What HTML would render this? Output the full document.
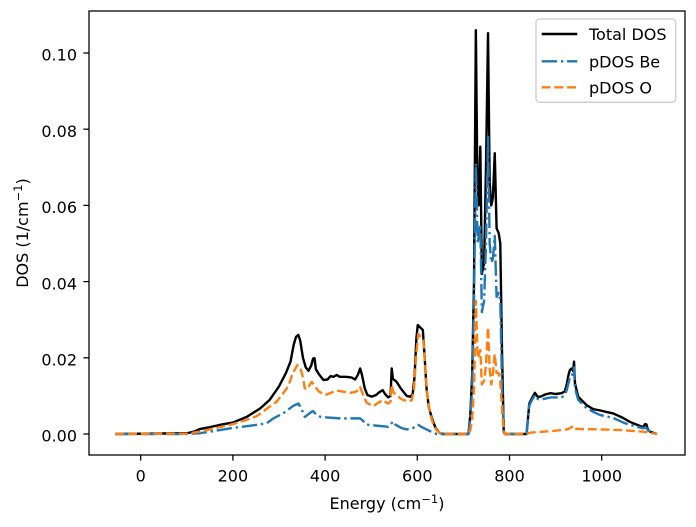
<!DOCTYPE html>
<html><head><meta charset="utf-8"><style>
html,body{margin:0;padding:0;background:#fff;}
svg{display:block;}
text{font-family:"DejaVu Sans","Liberation Sans",sans-serif;fill:#000;}
</style></head><body>
<svg id="s" width="696" height="527" viewBox="0 0 696 527" xmlns="http://www.w3.org/2000/svg">
<rect x="0" y="0" width="696" height="527" fill="#fff"/>
<g id="series"></g>
<!-- axes frame -->
<rect x="89" y="11" width="596" height="444" fill="none" stroke="#000" stroke-width="1.28"/>
<!-- y ticks -->
<g stroke="#000" stroke-width="1.28">
<line x1="83.4" y1="434" x2="89" y2="434"/>
<line x1="83.4" y1="357.8" x2="89" y2="357.8"/>
<line x1="83.4" y1="281.6" x2="89" y2="281.6"/>
<line x1="83.4" y1="205.4" x2="89" y2="205.4"/>
<line x1="83.4" y1="129.2" x2="89" y2="129.2"/>
<line x1="83.4" y1="53" x2="89" y2="53"/>
<line x1="140.7" y1="455" x2="140.7" y2="460.6"/>
<line x1="232.9" y1="455" x2="232.9" y2="460.6"/>
<line x1="325.1" y1="455" x2="325.1" y2="460.6"/>
<line x1="417.3" y1="455" x2="417.3" y2="460.6"/>
<line x1="509.5" y1="455" x2="509.5" y2="460.6"/>
<line x1="601.7" y1="455" x2="601.7" y2="460.6"/>
</g>
<g font-size="16" text-anchor="end">
<text x="77" y="441.7">0.00</text>
<text x="77" y="365.5">0.02</text>
<text x="77" y="289.3">0.04</text>
<text x="77" y="213.1">0.06</text>
<text x="77" y="136.9">0.08</text>
<text x="77" y="60.7">0.10</text>
</g>
<g font-size="16" text-anchor="middle">
<text x="140.7" y="481.5">0</text>
<text x="232.9" y="481.5">200</text>
<text x="325.1" y="481.5">400</text>
<text x="417.3" y="481.5">600</text>
<text x="509.5" y="481.5">800</text>
<text x="601.7" y="481.5">1000</text>
</g>
<text x="387" y="509" font-size="16" text-anchor="middle">Energy (cm<tspan font-size="11.5" dy="-6">−1</tspan><tspan dy="6">)</tspan></text>
<text transform="translate(28,233) rotate(-90)" font-size="16" text-anchor="middle">DOS (1/cm<tspan font-size="11.5" dy="-6">−1</tspan><tspan dy="6">)</tspan></text>
<!-- legend -->
<rect x="536" y="19" width="139.7" height="83.3" rx="3.5" ry="3.5" fill="#fff" fill-opacity="0.8" stroke="#cccccc" stroke-width="1.28"/>
<line x1="541.7" y1="34" x2="577.3" y2="34" stroke="#000" stroke-width="2.4"/>
<line x1="541.7" y1="61.3" x2="577.3" y2="61.3" stroke="#1f77b4" stroke-width="2.4" stroke-dasharray="15.4,3.8,2.4,3.8"/>
<line x1="541.7" y1="87.3" x2="577.3" y2="87.3" stroke="#ff7f0e" stroke-width="2.4" stroke-dasharray="8.9,3.8"/>
<g font-size="16">
<text x="589" y="40">Total DOS</text>
<text x="589" y="67.3">pDOS Be</text>
<text x="589" y="93.3">pDOS O</text>
</g>
</svg>
<script>
var T=[[-55,0],[100,0.0002],[115,0.0006],[128,0.0013],[150,0.0018],[172,0.0024],[200,0.003],[230,0.0045],[259,0.0067],[280,0.009],[300,0.0125],[315,0.016],[325,0.019],[332,0.0235],[337,0.0255],[342,0.026],[346,0.0245],[352,0.02],[358,0.0175],[364,0.0166],[370,0.018],[374,0.0198],[377,0.0199],[380,0.017],[386,0.0158],[396,0.0142],[405,0.0143],[412,0.0152],[418,0.015],[425,0.0155],[432,0.015],[445,0.015],[458,0.0148],[465,0.0143],[471,0.0155],[476,0.0172],[480,0.0155],[486,0.012],[492,0.0102],[501,0.0098],[510,0.0102],[518,0.011],[525,0.0115],[530,0.0105],[537,0.0096],[542,0.01],[544.5,0.0172],[547,0.0145],[555,0.0137],[565,0.0118],[577,0.0100],[585,0.0098],[590,0.0105],[594,0.015],[598,0.025],[601,0.0286],[606,0.028],[612,0.0273],[616,0.02],[620,0.012],[625,0.007],[632,0.004],[640,0.0015],[648,0.0003],[655,0],[711,0],[715,0.005],[719,0.0155],[723,0.04],[727,0.106],[730,0.07],[733,0.06],[736.7,0.0754],[740,0.042],[745,0.045],[749,0.07],[753.4,0.1052],[757,0.066],[760.5,0.06],[764,0.062],[768,0.0737],[772,0.054],[776.6,0.0527],[780,0.05],[784,0.02],[787.5,0.0006],[790,0],[837,0],[843,0.008],[849,0.0095],[855,0.0108],[861,0.0098],[867,0.0098],[878,0.0104],[889,0.0107],[900,0.0105],[913,0.0107],[920,0.0112],[924,0.0129],[928,0.0155],[931,0.0168],[935,0.0172],[938,0.0165],[940,0.019],[942,0.0133],[949,0.0098],[967,0.0076],[982,0.0065],[996,0.0062],[1010,0.0058],[1025,0.0054],[1045,0.0043],[1061,0.0032],[1075,0.0025],[1090,0.0018],[1094,0.0026],[1097,0.0025],[1100,0.0012],[1105,0.0006],[1115,0.0002],[1120,0]];
var B=[[-55,0],[100,0],[128,0.0002],[160,0.0008],[200,0.0016],[240,0.0022],[273,0.0028],[288,0.0041],[310,0.0055],[331,0.0074],[342,0.008],[348,0.0068],[356,0.0045],[364,0.0052],[370,0.0058],[374,0.006],[380,0.0052],[390,0.0045],[396,0.0044],[432,0.0041],[476,0.0041],[482,0.0035],[488,0.0026],[494,0.0024],[519,0.0021],[537,0.0019],[543,0.0025],[546.5,0.0033],[552,0.0025],[565,0.0016],[577,0.0012],[590,0.0015],[598,0.0022],[602,0.0024],[610,0.0018],[620,0.0012],[632,0.0005],[642,0],[711,0],[715,0.004],[719,0.012],[723,0.035],[727,0.071],[731,0.05],[736.7,0.055],[740,0.032],[745,0.035],[749,0.05],[753.4,0.078],[757,0.05],[760.5,0.045],[764,0.046],[768,0.052],[772,0.036],[776.6,0.037],[780,0.035],[784,0.012],[787.5,0.001],[790,0],[837,0],[843,0.0075],[849,0.009],[855,0.0102],[861,0.0092],[867,0.009],[889,0.0096],[913,0.0096],[920,0.0102],[924,0.0115],[931,0.0148],[935,0.015],[940,0.0175],[942,0.012],[949,0.009],[967,0.0068],[982,0.0058],[996,0.005],[1025,0.0042],[1047,0.003],[1061,0.0024],[1090,0.0015],[1095,0.0018],[1100,0.001],[1110,0.0003],[1120,0]];
var O=[[-55,0],[100,0.0001],[128,0.0006],[160,0.0015],[200,0.0026],[230,0.0037],[252,0.0047],[280,0.0072],[295,0.0085],[309,0.0107],[320,0.0125],[330,0.016],[340,0.0181],[346,0.0175],[352,0.0148],[356,0.012],[362,0.0118],[368,0.0132],[371,0.0137],[378,0.0125],[386,0.0112],[400,0.0102],[412,0.0108],[425,0.0114],[440,0.0111],[454,0.0108],[465,0.011],[472,0.0115],[476,0.0123],[482,0.0105],[490,0.0082],[505,0.0073],[515,0.0082],[526,0.0089],[532,0.0083],[537,0.008],[542,0.0085],[544.5,0.0129],[548,0.011],[555,0.0102],[565,0.0092],[580,0.0085],[588,0.0089],[593,0.012],[597,0.02],[602,0.0262],[608,0.0255],[613,0.0247],[617,0.018],[621,0.011],[626,0.0065],[632,0.0035],[640,0.0013],[648,0.0003],[655,0],[711,0],[715,0.001],[719,0.004],[723,0.012],[727,0.035],[731,0.02],[736.7,0.022],[740,0.013],[745,0.014],[749,0.018],[753.4,0.028],[757,0.017],[760.5,0.013],[764,0.016],[768,0.021],[772,0.016],[776.6,0.016],[780,0.014],[784,0.006],[787.5,0.001],[790,0],[837,0],[843,0.0003],[860,0.0005],[895,0.0008],[925,0.0012],[932,0.0016],[938,0.0021],[942,0.0014],[953,0.0013],[1000,0.0012],[1047,0.001],[1090,0.0006],[1100,0.0004],[1120,0]];
function pts(a){return a.map(function(p){return (140.7+p[0]*0.461).toFixed(2)+","+(434-p[1]*3810).toFixed(2);}).join(" ");}
var g=document.getElementById("series"),ns="http://www.w3.org/2000/svg";
function add(a,col,dash){var p=document.createElementNS(ns,"polyline");p.setAttribute("points",pts(a));p.setAttribute("fill","none");p.setAttribute("stroke",col);p.setAttribute("stroke-width","2.4");p.setAttribute("stroke-linejoin","round");if(dash)p.setAttribute("stroke-dasharray",dash);g.appendChild(p);}
add(T,"#000",null);
add(B,"#1f77b4","15.4,3.8,2.4,3.8");
add(O,"#ff7f0e","8.9,3.8");
</script>
</body></html>
